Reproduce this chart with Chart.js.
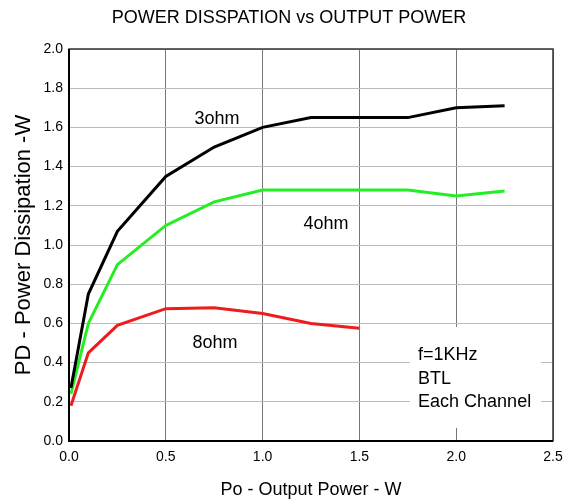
<!DOCTYPE html>
<html>
<head>
<meta charset="utf-8">
<script src="https://cdn.jsdelivr.net/npm/chart.js@4.4.1/dist/chart.umd.min.js"></script>
<style>
  html, body { margin: 0; padding: 0; background: #fff; }
  #wrap { width: 571px; height: 504px; }
</style>
</head>
<body>
<div id="wrap"><canvas id="c" width="571" height="504"></canvas></div>
<script>
// values
const poX = [0.01, 0.1, 0.25, 0.5, 0.75, 1.0, 1.25, 1.5, 1.75, 2.0, 2.25];
const pd3ohm = [0.27, 0.75, 1.07, 1.35, 1.5, 1.6, 1.65, 1.65, 1.65, 1.7, 1.71];
const pd4ohm = [0.24, 0.6, 0.9, 1.1, 1.22, 1.28, 1.28, 1.28, 1.28, 1.25, 1.275];
const pd8ohm = [0.18, 0.45, 0.59, 0.675, 0.68, 0.65, 0.6, 0.575];

// text placed on the plot, in data units
const notes = [
  { text: '3ohm', x: 0.764, y: 1.65 },
  { text: '4ohm', x: 1.327, y: 1.11 },
  { text: '8ohm', x: 0.754, y: 0.505 }
];
const conditions = ['f=1KHz', 'BTL', 'Each Channel'];
const condX = 1.803;
const condY = [0.445, 0.322, 0.205];

const chartTitle = 'POWER DISSPATION vs OUTPUT POWER';
const FONT = "'Liberation Sans', Arial, sans-serif";

function pts(ys) {
  return ys.map((y, i) => ({ x: poX[i], y: y }));
}

const frame = {
  id: 'frame',
  beforeDatasetsDraw(chart) {
    const { ctx, scales } = chart;
    ctx.save();
    ctx.font = '18px ' + FONT;
    ctx.textBaseline = 'middle';

    notes.forEach(n => {
      const px = scales.x.getPixelForValue(n.x);
      const py = scales.y.getPixelForValue(n.y);
      const w = ctx.measureText(n.text).width;
      ctx.fillStyle = '#fff';
      ctx.fillRect(px - w / 2 - 4, py - 8, w + 8, 16);
      ctx.fillStyle = '#000';
      ctx.textAlign = 'center';
      ctx.fillText(n.text, px, py + 1);
    });

    // condition block on one white patch, breaking the grid behind it
    const cx = scales.x.getPixelForValue(condX);
    const ys = condY.map(v => scales.y.getPixelForValue(v));
    const wMax = Math.max(...conditions.map(t => ctx.measureText(t).width));
    ctx.fillStyle = '#fff';
    ctx.fillRect(cx - 8, ys[0] - 27, wMax + 18, ys[ys.length - 1] - ys[0] + 54);
    ctx.fillStyle = '#000';
    ctx.textAlign = 'left';
    conditions.forEach((t, i) => ctx.fillText(t, cx, ys[i] + 1));
    ctx.restore();
  },
  afterDraw(chart) {
    const { ctx, chartArea: a } = chart;
    ctx.save();
    ctx.strokeStyle = '#333';
    ctx.lineWidth = 1.5;
    ctx.strokeRect(a.left, a.top, a.right - a.left, a.bottom - a.top);
    ctx.strokeStyle = '#000';
    ctx.lineWidth = 2;
    ctx.beginPath();
    ctx.moveTo(a.left, a.top);
    ctx.lineTo(a.left, a.bottom);
    ctx.lineTo(a.right, a.bottom);
    ctx.stroke();

    ctx.fillStyle = '#000';
    ctx.font = '18px ' + FONT;
    ctx.textAlign = 'center';
    ctx.textBaseline = 'middle';
    ctx.fillText(chartTitle, 289, 18);
    ctx.restore();
  }
};

new Chart(document.getElementById('c'), {
  type: 'line',
  data: {
    datasets: [
      { label: '3ohm', data: pts(pd3ohm), borderColor: '#000000' },
      { label: '4ohm', data: pts(pd4ohm), borderColor: '#22ee22' },
      { label: '8ohm', data: pts(pd8ohm), borderColor: '#ee1c1c' }
    ]
  },
  options: {
    responsive: false,
    animation: false,
    layout: { padding: { left: 0, right: 18, top: 49, bottom: 0 } },
    elements: {
      line: { borderWidth: 3, tension: 0, fill: false },
      point: { radius: 0 }
    },
    scales: {
      x: {
        type: 'linear',
        min: 0, max: 2.5,
        ticks: {
          stepSize: 0.5,
          color: '#000',
          font: { family: FONT, size: 14 },
          padding: 8,
          callback: v => v.toFixed(1)
        },
        grid: { color: '#777', lineWidth: 1, tickLength: 0 },
        border: { display: false },
        title: {
          display: true,
          text: 'Po - Output Power - W',
          color: '#000',
          font: { family: FONT, size: 18 },
          padding: { top: 0, bottom: 3 }
        },
        afterFit: s => { s.height = 63; }
      },
      y: {
        min: 0, max: 2.0,
        ticks: {
          stepSize: 0.2,
          color: '#000',
          font: { family: FONT, size: 14 },
          padding: 6,
          callback: v => v.toFixed(1)
        },
        grid: { color: '#bbb', lineWidth: 1, tickLength: 0 },
        border: { display: false },
        title: {
          display: true,
          text: 'PD - Power Dissipation -W',
          color: '#000',
          font: { family: FONT, size: 22 },
          padding: { top: 11, bottom: 0 }
        },
        afterFit: s => { s.width = 69; }
      }
    },
    plugins: {
      legend: { display: false },
      tooltip: { enabled: false },
      title: { display: false }
    }
  },
  plugins: [frame]
});
</script>
</body>
</html>
